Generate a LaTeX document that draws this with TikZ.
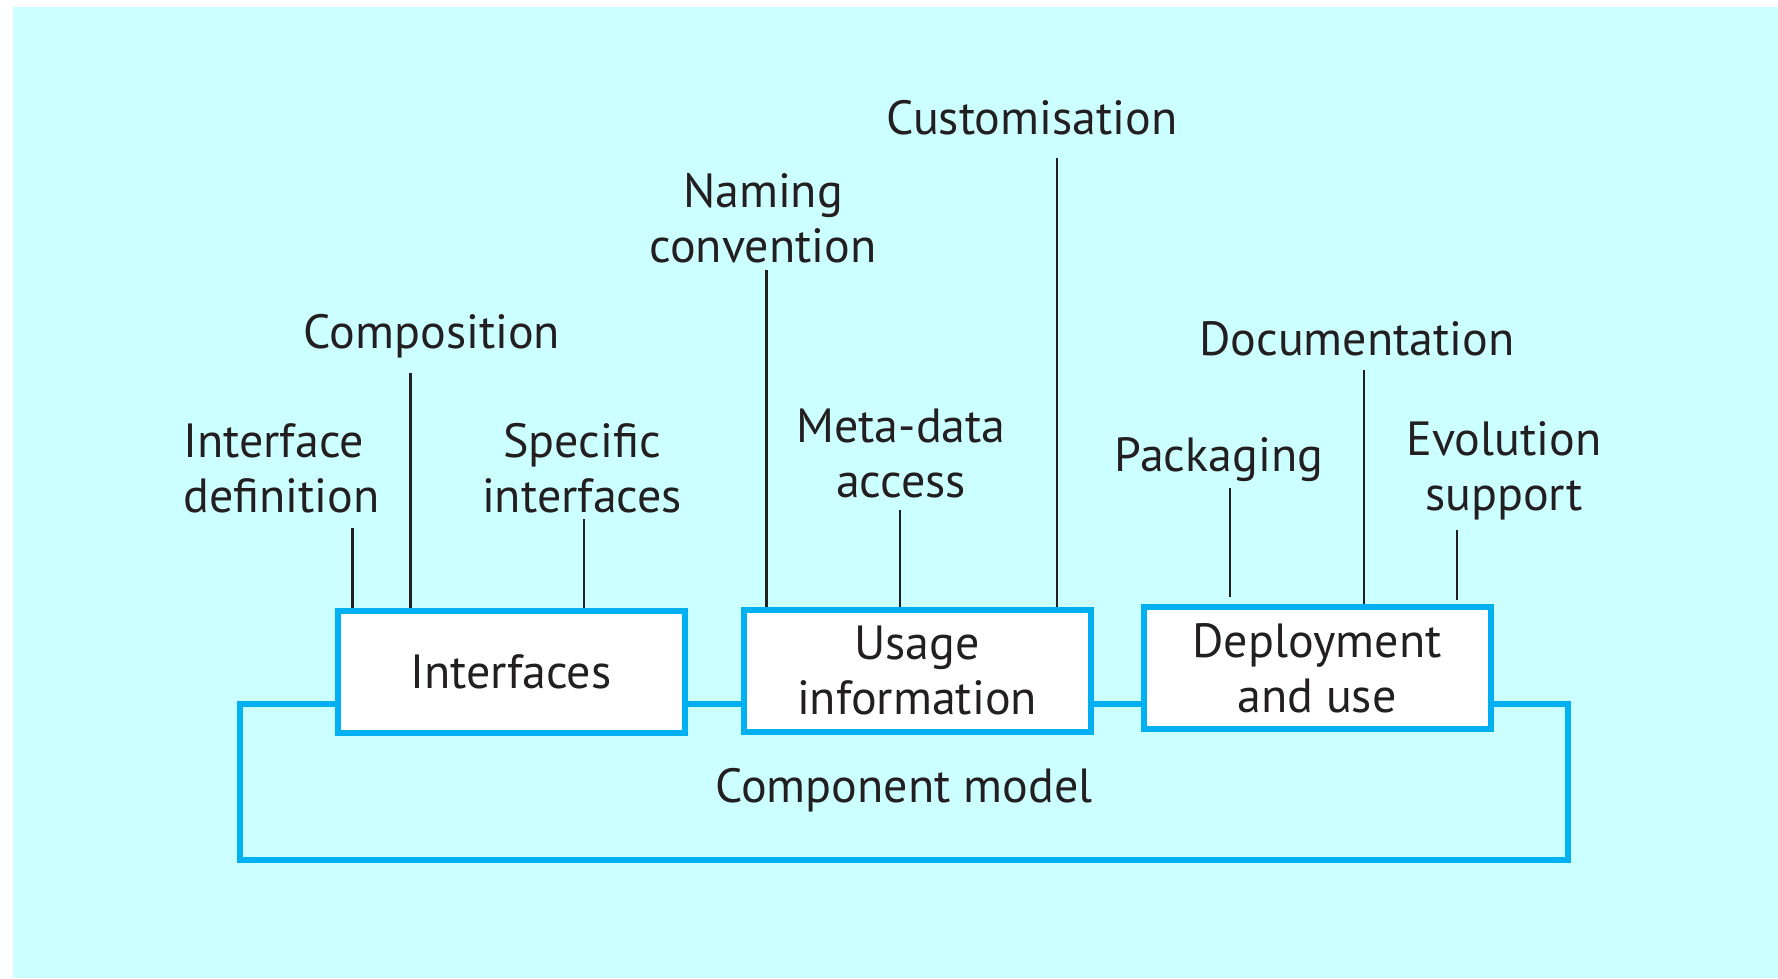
\documentclass[tikz,border=0pt]{standalone}
\usepackage{fontspec}
\setmainfont{PT Sans}
\definecolor{bgcyan}{RGB}{204,255,255}
\definecolor{boxblue}{RGB}{0,176,240}
\definecolor{ink}{RGB}{35,31,32}
\newcommand\diagfont{\fontsize{48}{55}\selectfont}
\begin{document}
\begin{tikzpicture}[x=1pt,y=-1pt,
  box/.style={draw=boxblue, line width=6pt, fill=white, minimum width=347pt, minimum height=122pt, inner sep=0pt, align=center, font=\diagfont, text=ink},
  lab/.style={inner sep=0pt, align=center, font=\diagfont, text=ink, anchor=base},
  tick/.style={draw=ink, line width=2.6pt},
  frame/.style={draw=boxblue, line width=6pt}]
\useasboundingbox (0,0) rectangle (1778,978);
\fill[white] (0,0) rectangle (1778,978);
\fill[bgcyan] (13,7) rectangle (1778,978);

% boxes
\node[box] (int) at (511,672) {Interfaces};
\node[box] (use) at (917,670.5) {Usage\\information};
\node[box] (dep) at (1317,668) {Deployment\\and use};

% component model frame
\coordinate (fl) at (240,703.5);
\coordinate (fbl) at (240,860);
\coordinate (fbr) at (1568,860);
\coordinate (fr) at (1568,703.5);
\draw[frame] (int.west |- fl) -- (fl) -- (fbl) -- (fbr) -- (fr) -- (dep.east |- fr);
\draw[frame] (int.east |- fl) -- (use.west |- fl);
\draw[frame] (use.east |- fl) -- (dep.west |- fl);
\node[lab] (cm) at (904,802) {Component model};

% labels (base anchor = baseline of the last line)
\node[lab, align=left, anchor=base west] (idef) at (183,512) {Interface\\definition};
\node[lab] (comp) at (432,348) {Composition};
\node[lab] (spec) at (582,512) {Specific\\interfaces};
\node[lab] (nam) at (763,262) {Naming\\convention};
\node[lab] (meta) at (901,497) {Meta-data\\access};
\node[lab] (cust) at (1032,134) {Customisation};
\node[lab] (pack) at (1219,471) {Packaging};
\node[lab] (doc) at (1357,355) {Documentation};
\node[lab] (evo) at (1504,510) {Evolution\\support};

% ticks
\coordinate (idefT) at (352.6,528);
\coordinate (compT) at (410.5,373);
\coordinate (specT) at (584,519);
\coordinate (namT) at (766.5,270);
\coordinate (metaT) at (900,510);
\coordinate (custT) at (1057,158);
\coordinate (packT) at (1230,488);
\coordinate (packB) at (1230,597);
\coordinate (docT) at (1364,370);
\coordinate (evoT) at (1457,530);
\coordinate (evoB) at (1457,600);
\draw[tick] (idefT) -- (idefT |- int.north);
\draw[tick] (compT) -- (compT |- int.north);
\draw[tick] (specT) -- (specT |- int.north);
\draw[tick] (namT) -- (namT |- use.north);
\draw[tick] (metaT) -- (metaT |- use.north);
\draw[tick] (custT) -- (custT |- use.north);
\draw[tick] (packT) -- (packB);
\draw[tick] (docT) -- (docT |- dep.north);
\draw[tick] (evoT) -- (evoB);
\end{tikzpicture}
\end{document}
